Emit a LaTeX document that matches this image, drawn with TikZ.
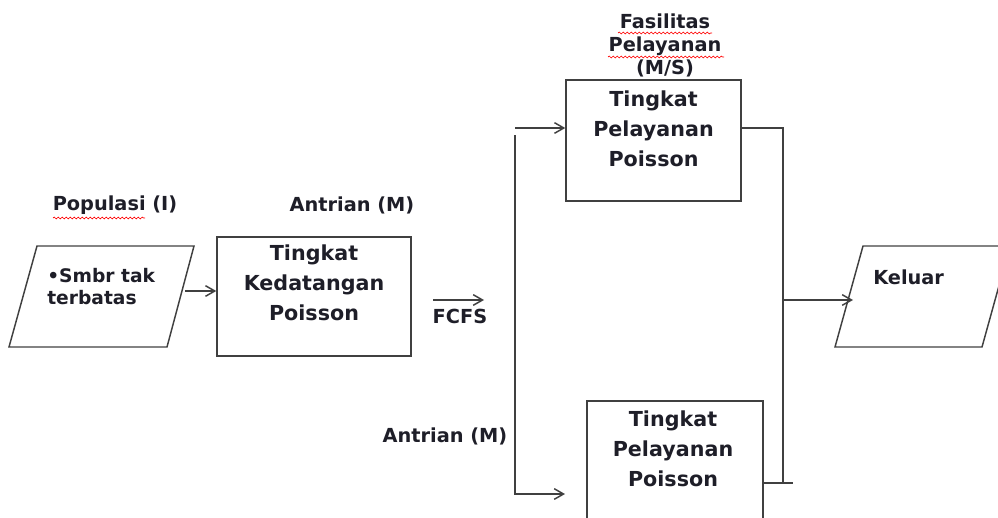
\documentclass[tikz,border=0pt]{standalone}
\usepackage{fontspec}
\setmainfont{DejaVu Sans}
\usetikzlibrary{arrows.meta,decorations.pathmorphing,calc}
\definecolor{ln}{HTML}{404040}
\definecolor{tx}{HTML}{1E1E28}
\begin{document}
\begin{tikzpicture}[x=0.75pt,y=-0.75pt,
  conn/.style={draw=ln,line width=1.1pt},
  arr/.style={conn,-{Straight Barb[length=7pt,width=8pt,line width=1.1pt]}},
  boxshape/.style={draw=ln,line width=1.1pt,inner sep=0pt},
  txt/.style={text=tx,font=\bfseries\fontsize{14.5}{22.5}\selectfont,align=center,inner sep=0pt},
  btxt/.style={txt,font=\bfseries\fontsize{15.5}{22.5}\selectfont},
  squig/.style={draw=red,line width=0.5pt,decorate,decoration={snake,segment length=3pt,amplitude=0.7pt}}]
\useasboundingbox (0,0) rectangle (998,517);
\clip (0,0) rectangle (998,517);

% source parallelogram
\coordinate (s1) at (37,246);
\coordinate (s2) at (194,246);
\coordinate (s3) at (167,347);
\coordinate (s4) at (9,347);
\draw[conn] (s1) -- (s2) -- (s3) -- (s4) -- cycle;
\node[txt,align=left,anchor=west,font=\bfseries\fontsize{14}{16.5}\selectfont] (srct) at (47,287) {\textbullet Smbr tak\\terbatas};
\coordinate (srcout) at (185,291);

% labels
\node[txt] (pop) at (115,205) {Populasi (I)};
\draw[squig] (53,218) -- (145,218);
\node[txt] (ant1) at (352,205) {Antrian (M)};
\node[txt] (ant2) at (445,436) {Antrian (M)};
\node[txt,font=\bfseries\fontsize{14.5}{17.25}\selectfont] (fas) at (665,45) {Fasilitas\\Pelayanan\\(M/S)};
\draw[squig] (618,33) -- (712,33);
\draw[squig] (608,57) -- (724,57);

% arrival box
\node[boxshape,minimum width=145.5pt,minimum height=89.25pt] (k1) at (314,296.5) {};
\node[btxt] (k1t) at (314,283) {Tingkat\\Kedatangan\\Poisson};
\draw[arr] (srcout) -- (srcout -| k1.west);

% FCFS
\coordinate (f1) at (433,300);
\coordinate (f2) at (484,300);
\draw[arr] (f1) -- (f2);
\node[txt] (fcfs) at (460,316) {FCFS};

% service boxes
\node[boxshape,minimum width=131.25pt,minimum height=90.75pt] (t) at (653.5,140.5) {};
\node[btxt] (tt) at (653.5,129) {Tingkat\\Pelayanan\\Poisson};
\node[boxshape,minimum width=132pt,minimum height=134.25pt] (b) at (675,490.5) {};
\node[btxt] (bt) at (673,449) {Tingkat\\Pelayanan\\Poisson};

% split lines
\coordinate (tin) at (515,128);
\coordinate (vtop) at (515,135);
\coordinate (vbot) at (515,494);
\coordinate (bin) at (565,494);
\draw[arr] (tin) -- (tin -| t.west);
\draw[arr] (vtop) -- (vbot) -- (bin);

% merge lines
\coordinate (rtop) at (783,128);
\coordinate (rbot) at (783,483);
\coordinate (bout) at (793,483);
\draw[conn] (rtop -| t.east) -- (rtop) -- (rbot);
\draw[conn] (rbot -| b.east) -- (bout);

% exit parallelogram
\coordinate (e1) at (863,246);
\coordinate (e2) at (1010,246);
\coordinate (e3) at (982,347);
\coordinate (e4) at (835,347);
\draw[conn] (e1) -- (e2) -- (e3) -- (e4) -- cycle;
\node[txt,anchor=west] (kel) at (873,277) {Keluar};
\coordinate (rmid) at (783,300);
\coordinate (ein) at (853,300);
\draw[arr] (rmid) -- (ein);
\end{tikzpicture}
\end{document}
